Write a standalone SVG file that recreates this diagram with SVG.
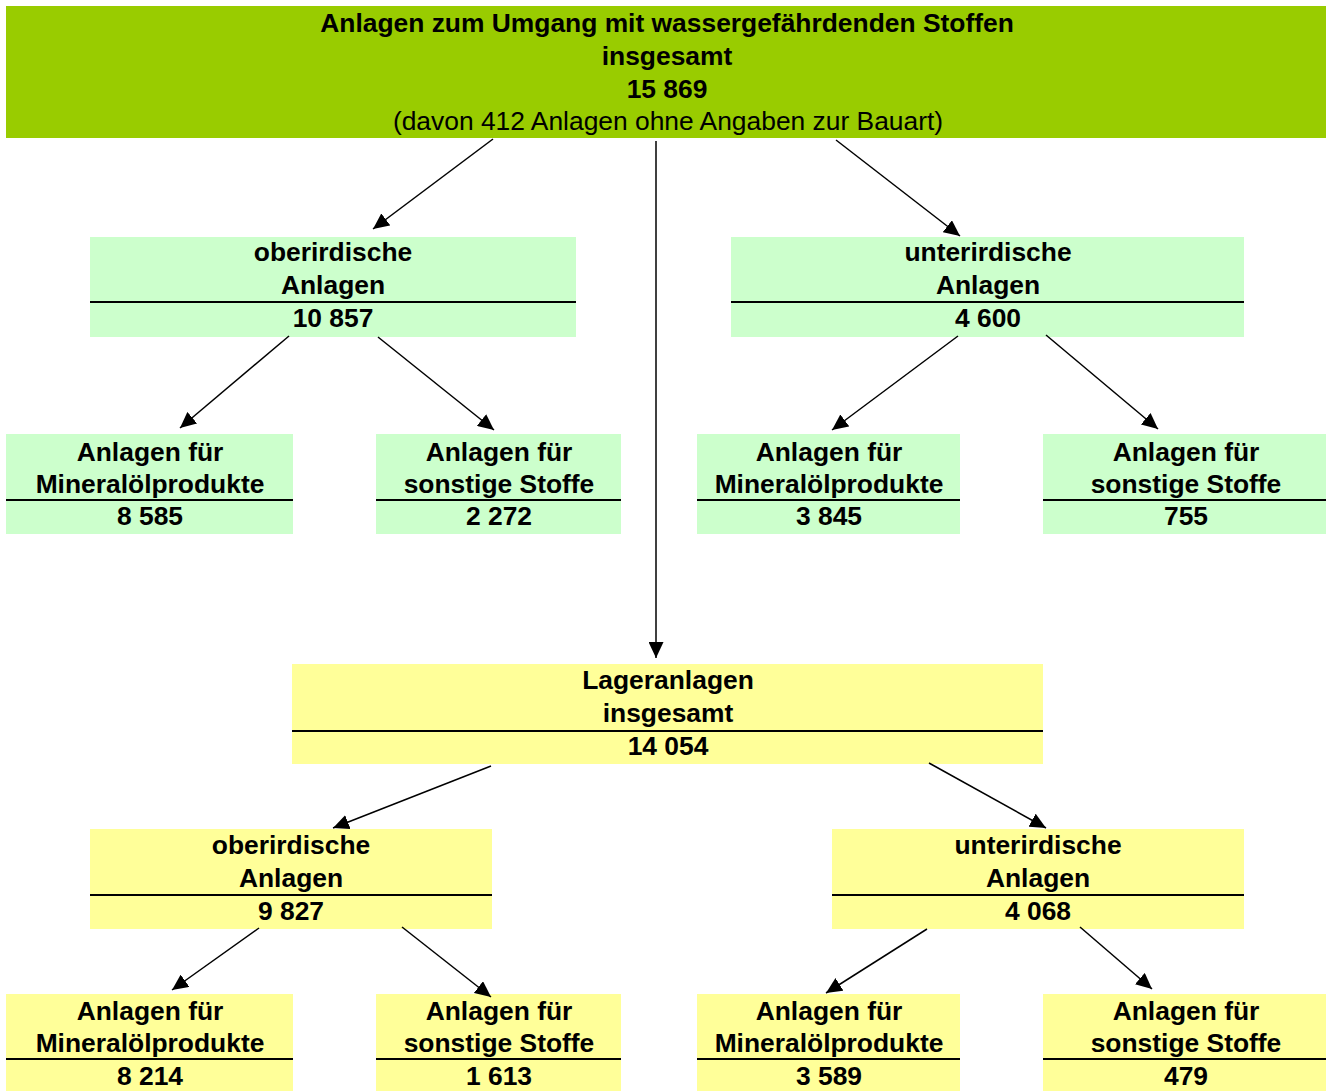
<svg xmlns="http://www.w3.org/2000/svg" width="1326" height="1091" viewBox="0 0 1326 1091">
<style>
text{font-family:"Liberation Sans",Arial,sans-serif;font-size:26.4px;font-weight:bold;text-anchor:middle;fill:#000}
.n{font-weight:normal}
.g{fill:#CCFFCC}
.y{fill:#FFFF99}
.d{stroke:#000;stroke-width:2}
.c line{stroke:#000;stroke-width:1.5;marker-end:url(#ah)}
</style>
<defs>
<marker id="ah" viewBox="0 0 16 15" refX="16" refY="7.5" markerWidth="16" markerHeight="15" markerUnits="userSpaceOnUse" orient="auto"><path d="M0,0L16,7.5L0,15z" fill="#000"/></marker>
</defs>
<rect width="1326" height="1091" fill="#fff"/>
<g id="top">
<rect x="6" y="6" width="1320" height="132" fill="#99CC00"/>
<text x="667" y="32">Anlagen zum Umgang mit wassergefährdenden Stoffen</text>
<text x="667" y="65">insgesamt</text>
<text x="667" y="98">15 869</text>
<text x="668" y="130" class="n">(davon 412 Anlagen ohne Angaben zur Bauart)</text>
</g>
<g id="ober1">
<rect class="g" x="90" y="237" width="486" height="100"/>
<text x="333" y="261">oberirdische</text><text x="333" y="294">Anlagen</text>
<line class="d" x1="90" y1="302" x2="576" y2="302"/>
<text x="333" y="327">10 857</text>
</g>
<g id="unter1">
<rect class="g" x="731" y="237" width="513" height="100"/>
<text x="988" y="261">unterirdische</text><text x="988" y="294">Anlagen</text>
<line class="d" x1="731" y1="302" x2="1244" y2="302"/>
<text x="988" y="327">4 600</text>
</g>
<g id="min1">
<rect class="g" x="6" y="434" width="287" height="100"/>
<text x="150" y="461">Anlagen für</text><text x="150" y="493">Mineralölprodukte</text>
<line class="d" x1="6" y1="500" x2="293" y2="500"/>
<text x="150" y="525">8 585</text>
</g>
<g id="son1">
<rect class="g" x="376" y="434" width="245" height="100"/>
<text x="499" y="461">Anlagen für</text><text x="499" y="493">sonstige Stoffe</text>
<line class="d" x1="376" y1="500" x2="621" y2="500"/>
<text x="499" y="525">2 272</text>
</g>
<g id="min2">
<rect class="g" x="697" y="434" width="263" height="100"/>
<text x="829" y="461">Anlagen für</text><text x="829" y="493">Mineralölprodukte</text>
<line class="d" x1="697" y1="500" x2="960" y2="500"/>
<text x="829" y="525">3 845</text>
</g>
<g id="son2">
<rect class="g" x="1043" y="434" width="283" height="100"/>
<text x="1186" y="461">Anlagen für</text><text x="1186" y="493">sonstige Stoffe</text>
<line class="d" x1="1043" y1="500" x2="1326" y2="500"/>
<text x="1186" y="525">755</text>
</g>
<g id="lager">
<rect class="y" x="292" y="664" width="751" height="100"/>
<text x="668" y="689">Lageranlagen</text><text x="668" y="722">insgesamt</text>
<line class="d" x1="292" y1="731" x2="1043" y2="731"/>
<text x="668" y="755">14 054</text>
</g>
<g id="ober2">
<rect class="y" x="90" y="829" width="402" height="100"/>
<text x="291" y="854">oberirdische</text><text x="291" y="887">Anlagen</text>
<line class="d" x1="90" y1="895" x2="492" y2="895"/>
<text x="291" y="920">9 827</text>
</g>
<g id="unter2">
<rect class="y" x="832" y="829" width="412" height="100"/>
<text x="1038" y="854">unterirdische</text><text x="1038" y="887">Anlagen</text>
<line class="d" x1="832" y1="895" x2="1244" y2="895"/>
<text x="1038" y="920">4 068</text>
</g>
<g id="min3">
<rect class="y" x="6" y="994" width="287" height="97"/>
<text x="150" y="1020">Anlagen für</text><text x="150" y="1052">Mineralölprodukte</text>
<line class="d" x1="6" y1="1059" x2="293" y2="1059"/>
<text x="150" y="1085">8 214</text>
</g>
<g id="son3">
<rect class="y" x="376" y="994" width="245" height="97"/>
<text x="499" y="1020">Anlagen für</text><text x="499" y="1052">sonstige Stoffe</text>
<line class="d" x1="376" y1="1059" x2="621" y2="1059"/>
<text x="499" y="1085">1 613</text>
</g>
<g id="min4">
<rect class="y" x="697" y="994" width="263" height="97"/>
<text x="829" y="1020">Anlagen für</text><text x="829" y="1052">Mineralölprodukte</text>
<line class="d" x1="697" y1="1059" x2="960" y2="1059"/>
<text x="829" y="1085">3 589</text>
</g>
<g id="son4">
<rect class="y" x="1043" y="994" width="283" height="97"/>
<text x="1186" y="1020">Anlagen für</text><text x="1186" y="1052">sonstige Stoffe</text>
<line class="d" x1="1043" y1="1059" x2="1326" y2="1059"/>
<text x="1186" y="1085">479</text>
</g>
<g id="connectors" class="c">
<line x1="493" y1="139" x2="373" y2="229"/>
<line x1="656" y1="141" x2="656" y2="658"/>
<line x1="836" y1="140" x2="960" y2="236"/>
<line x1="289" y1="336" x2="180" y2="428"/>
<line x1="378" y1="337" x2="494" y2="430"/>
<line x1="958" y1="336" x2="832" y2="430"/>
<line x1="1046" y1="335" x2="1158" y2="429"/>
<line x1="491" y1="766" x2="333" y2="828"/>
<line x1="929" y1="763" x2="1046" y2="828"/>
<line x1="259" y1="928" x2="172" y2="990"/>
<line x1="402" y1="927" x2="491" y2="997"/>
<line x1="927" y1="929" x2="826" y2="993"/>
<line x1="1080" y1="927" x2="1152" y2="989"/>
</g>
</svg>
